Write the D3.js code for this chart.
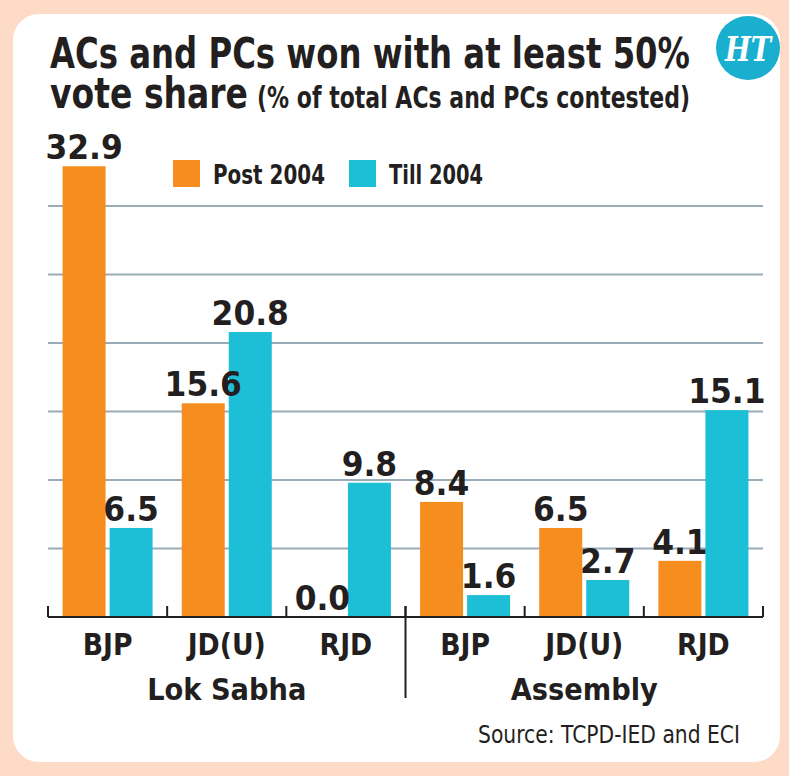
<!DOCTYPE html>
<html>
<head>
<meta charset="utf-8">
<script src="https://cdn.jsdelivr.net/npm/d3@7"></script>
<style>
  body { margin: 0; background: #fddbc7; }
  svg { display: block; }
  text { font-family: "DejaVu Sans", sans-serif; fill: #231f20; }
</style>
</head>
<body>
<div id="chart"></div>
<script>
var width = 789,
    height = 776;

// data
var parties = ["BJP", "JD(U)", "RJD", "BJP", "JD(U)", "RJD"];
var houses = ["Lok Sabha", "Assembly"];
var series = ["Post 2004", "Till 2004"];
var post2004 = [32.9, 15.6, 0.0, 8.4, 6.5, 4.1];
var till2004 = [6.5, 20.8, 9.8, 1.6, 2.7, 15.1];
var gridTicks = [5, 10, 15, 20, 25, 30];

var colors = { "Post 2004": "#f68e1f", "Till 2004": "#1dbfd6" };

// squeeze text to look like the condensed face of the original
function fit(sel, w) {
  sel.attr("textLength", w).attr("lengthAdjust", "spacingAndGlyphs");
}
function condense(sel, f) {
  sel.each(function() {
    d3.select(this)
      .attr("textLength", this.getComputedTextLength() * f)
      .attr("lengthAdjust", "spacingAndGlyphs");
  });
}

var svg = d3.select("#chart")
  .append("svg")
  .attr("width", width)
  .attr("height", height);

// white card
svg.append("rect")
  .attr("x", 13).attr("y", 14)
  .attr("width", 767).attr("height", 748)
  .attr("rx", 26).attr("ry", 26)
  .attr("fill", "#ffffff");

// title
svg.append("text")
  .attr("x", 50).attr("y", 68)
  .style("font-size", "43px")
  .style("font-weight", "bold")
  .text("ACs and PCs won with at least 50%")
  .call(fit, 640);

svg.append("text")
  .attr("x", 50).attr("y", 108)
  .style("font-size", "43px")
  .style("font-weight", "bold")
  .text("vote share")
  .call(fit, 198);

svg.append("text")
  .attr("x", 257).attr("y", 108)
  .style("font-size", "30px")
  .style("font-weight", "bold")
  .text("(% of total ACs and PCs contested)")
  .call(fit, 433);

// HT logo
svg.append("circle")
  .attr("cx", 748).attr("cy", 48).attr("r", 32)
  .attr("fill", "#1aafcf");
svg.append("text")
  .attr("x", 748).attr("y", 61)
  .attr("text-anchor", "middle")
  .style("font-family", "'DejaVu Serif', serif")
  .style("font-style", "italic")
  .style("font-weight", "bold")
  .style("font-size", "34px")
  .style("fill", "#ffffff")
  .text("HT")
  .call(fit, 46);

// scales
var x0 = d3.scaleBand()
  .domain(d3.range(parties.length))
  .range([48, 763]);

var x1 = d3.scaleBand()
  .domain(series)
  .range([0, x0.bandwidth()])
  .paddingInner(0.085)
  .paddingOuter(0.31);

var y = d3.scaleLinear()
  .domain([0, 30])
  .range([617, 206]);

// gridlines
svg.append("g")
  .selectAll("line")
  .data(gridTicks)
  .enter().append("line")
  .attr("x1", 48).attr("x2", 763)
  .attr("y1", function(d) { return y(d); })
  .attr("y2", function(d) { return y(d); })
  .attr("stroke", "#9aacb7")
  .attr("stroke-width", 2);

// legend
var legendW = { "Post 2004": 112, "Till 2004": 94 };
var legend = svg.append("g")
  .selectAll("g")
  .data(series)
  .enter().append("g")
  .attr("transform", function(d, i) { return "translate(" + (173 + i * 176) + ",160)"; });

legend.append("rect")
  .attr("width", 27).attr("height", 27)
  .attr("fill", function(d) { return colors[d]; });

legend.append("text")
  .attr("x", 40).attr("y", 24)
  .style("font-size", "26px")
  .style("font-weight", "bold")
  .text(function(d) { return d; })
  .each(function(d) { d3.select(this).call(fit, legendW[d]); });

// bars
var rows = parties.map(function(p, i) {
  return { i: i, party: p, values: [
    { key: "Post 2004", value: post2004[i] },
    { key: "Till 2004", value: till2004[i] }
  ]};
});

var group = svg.append("g")
  .selectAll(".group")
  .data(rows)
  .enter().append("g")
  .attr("class", "group")
  .attr("transform", function(d) { return "translate(" + x0(d.i) + ",0)"; });

group.selectAll("rect")
  .data(function(d) { return d.values; })
  .enter().append("rect")
  .attr("x", function(d) { return x1(d.key); })
  .attr("width", x1.bandwidth())
  .attr("y", function(d) { return y(d.value); })
  .attr("height", function(d) { return y(0) - y(d.value); })
  .attr("fill", function(d) { return colors[d.key]; });

group.selectAll(".val")
  .data(function(d) { return d.values; })
  .enter().append("text")
  .attr("class", "val")
  .attr("x", function(d) { return x1(d.key) + x1.bandwidth() / 2; })
  .attr("y", function(d) { return y(d.value) - 7; })
  .attr("text-anchor", "middle")
  .style("font-size", "33px")
  .style("font-weight", "bold")
  .text(function(d) { return d.value.toFixed(1); })
  .call(condense, 0.95);

// x axis
var axis = svg.append("g");
axis.append("line")
  .attr("x1", 48).attr("x2", 763)
  .attr("y1", y(0)).attr("y2", y(0))
  .attr("stroke", "#231f20").attr("stroke-width", 2);

var edges = d3.range(parties.length).map(function(i) { return x0(i); }).concat([763]);
axis.selectAll(".tick")
  .data(edges)
  .enter().append("line")
  .attr("class", "tick")
  .attr("x1", function(d) { return d; }).attr("x2", function(d) { return d; })
  .attr("y1", y(0) - 11).attr("y2", y(0))
  .attr("stroke", "#231f20").attr("stroke-width", 2);

// divider between houses
axis.append("line")
  .attr("x1", x0(3)).attr("x2", x0(3))
  .attr("y1", y(0) - 11).attr("y2", 698)
  .attr("stroke", "#231f20").attr("stroke-width", 2);

axis.selectAll(".cat")
  .data(rows)
  .enter().append("text")
  .attr("class", "cat")
  .attr("x", function(d) { return x0(d.i) + x0.bandwidth() / 2; })
  .attr("y", 655)
  .attr("text-anchor", "middle")
  .style("font-size", "30px")
  .style("font-weight", "bold")
  .text(function(d) { return d.party; })
  .call(condense, 0.89);

axis.selectAll(".house")
  .data(houses)
  .enter().append("text")
  .attr("class", "house")
  .attr("x", function(d, i) { return x0(i * 3) + x0.bandwidth() * 1.5; })
  .attr("y", 700)
  .attr("text-anchor", "middle")
  .style("font-size", "31px")
  .style("font-weight", "bold")
  .text(function(d) { return d; })
  .call(condense, 0.88);

// source
svg.append("text")
  .attr("x", 740).attr("y", 743)
  .attr("text-anchor", "end")
  .style("font-size", "25px")
  .text("Source: TCPD-IED and ECI")
  .call(fit, 262);
</script>
</body>
</html>
